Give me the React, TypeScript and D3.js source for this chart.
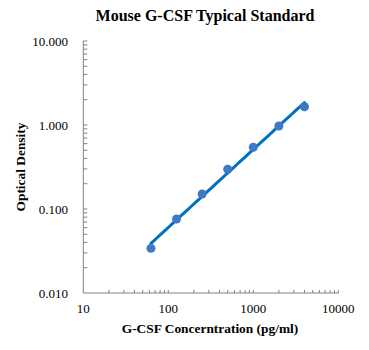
import React from "react";
import * as d3 from "d3";

const concentrations = [62.5, 125, 250, 500, 1000, 2000, 4000];
const densities = [0.034, 0.076, 0.151, 0.297, 0.543, 0.973, 1.65];
const xTickValues = [10, 100, 1000, 10000];
const yTickValues = [0.01, 0.1, 1, 10];

const W = 369;
const H = 350;
const left = 83.3;
const right = 338.3;
const top = 41;
const bottom = 293;

export default function App() {
  const x = d3.scaleLog().domain([10, 10000]).range([left, right]);
  const y = d3.scaleLog().domain([0.01, 10]).range([bottom, top]);

  // power-law fit (least squares in log space)
  const lx = concentrations.map((c) => Math.log10(c));
  const ly = densities.map((d) => Math.log10(d));
  const mx = d3.mean(lx)!;
  const my = d3.mean(ly)!;
  const slope =
    d3.sum(lx.map((v, i) => (v - mx) * (ly[i] - my))) /
    d3.sum(lx.map((v) => (v - mx) * (v - mx)));
  const intercept = my - slope * mx;
  const fit = (c: number) => Math.pow(10, intercept + slope * Math.log10(c));
  const c0 = concentrations[0];
  const c1 = concentrations[concentrations.length - 1];
  const fitPts: [number, number][] = d3
    .range(0, 51)
    .map((i) => c0 * Math.pow(c1 / c0, i / 50))
    .map((c) => [x(c), y(fit(c))]);
  const line = d3.line();

  const xMinor: number[] = [];
  for (let dec = 10; dec < 10000; dec *= 10)
    for (let k = 2; k <= 10; k++) xMinor.push(dec * k);
  const yMinor: number[] = [];
  for (let dec = 0.01; dec < 9; dec *= 10)
    for (let k = 2; k <= 10; k++) yMinor.push(dec * k);

  const font = "'Liberation Serif', 'Times New Roman', serif";
  const axisColor = "#808080";

  return (
    <svg width={W} height={H} style={{ position: "absolute", left: 0, top: 0 }} fontFamily={font}>
      <rect width={W} height={H} fill="#fff" />
      <text x={205} y={21} textAnchor="middle" fontSize={16} fontWeight="bold" fill="#000">
        Mouse G-CSF Typical Standard
      </text>
      {/* axes */}
      <line x1={left} x2={left} y1={top} y2={bottom} stroke={axisColor} strokeWidth={1} />
      <line x1={left} x2={right} y1={bottom} y2={bottom} stroke={axisColor} strokeWidth={1} />
      {yMinor.map((v, i) => (
        <line key={"ym" + i} x1={left} x2={left + 4} y1={y(v)} y2={y(v)} stroke={axisColor} strokeWidth={1} />
      ))}
      {xMinor.map((v, i) => (
        <line key={"xm" + i} x1={x(v)} x2={x(v)} y1={bottom} y2={bottom - 3} stroke={axisColor} strokeWidth={1} />
      ))}
      {yTickValues.map((v) => (
        <text key={"yt" + v} x={68} y={y(v) + 4.5} textAnchor="end" fontSize={13} fill="#000">
          {v.toFixed(3)}
        </text>
      ))}
      {xTickValues.map((v) => (
        <text key={"xt" + v} x={x(v)} y={313} textAnchor="middle" fontSize={13} fill="#000">
          {String(v)}
        </text>
      ))}
      <text x={210} y={333} textAnchor="middle" fontSize={13.4} fontWeight="bold" fill="#000">
        G-CSF Concerntration (pg/ml)
      </text>
      <text
        transform={`translate(25, ${(top + bottom) / 2}) rotate(-90)`}
        textAnchor="middle"
        fontSize={13.4}
        fontWeight="bold"
        fill="#000"
      >
        Optical Density
      </text>
      {/* trend line */}
      <path d={line(fitPts) || ""} fill="none" stroke="#0070C0" strokeWidth={3} strokeLinecap="round" />
      {concentrations.map((c, i) => (
        <circle key={"p" + i} cx={x(c)} cy={y(densities[i])} r={4.5} fill="#3F78C4" />
      ))}
    </svg>
  );
}
